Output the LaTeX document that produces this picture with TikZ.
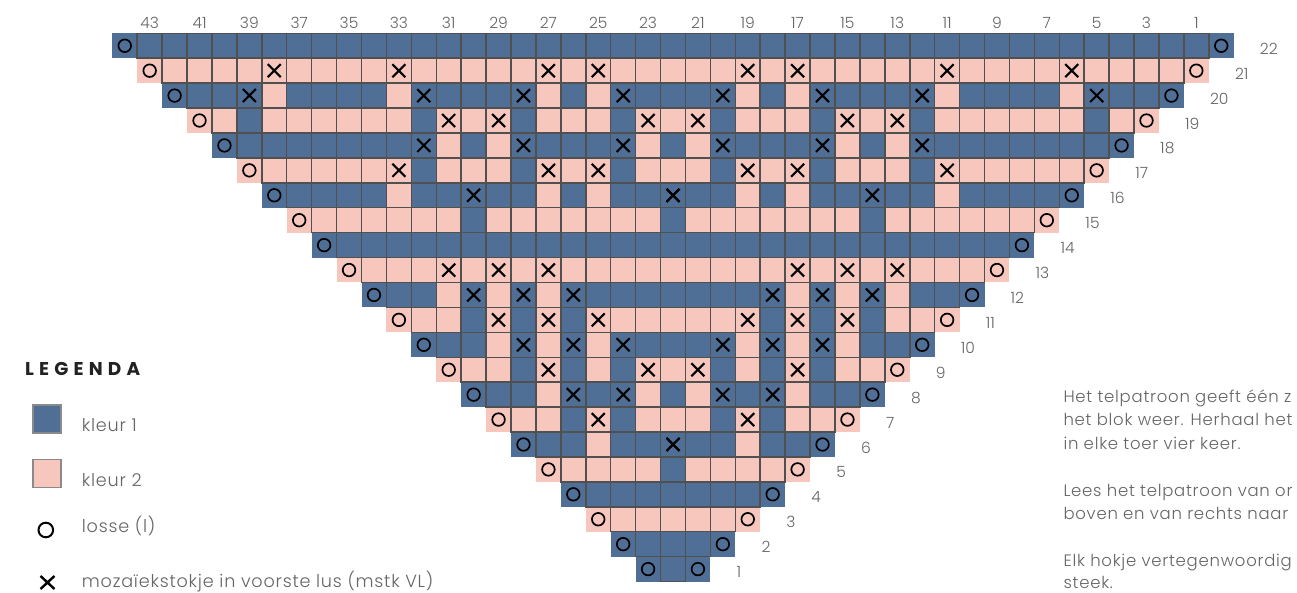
\documentclass[tikz,border=0pt]{standalone}
\usepackage{fontspec}
\setmainfont{Poppins Light}
\newfontfamily\bodyfont{Poppins Light}[LetterSpace=4.5]
\newfontfamily\legfont{Poppins}[LetterSpace=28]
\definecolor{blu}{HTML}{506F96}
\definecolor{pnk}{HTML}{F7C6BD}
\definecolor{gridc}{HTML}{505050}
\definecolor{txtc}{HTML}{666666}
\definecolor{ttlc}{HTML}{222222}
\definecolor{legbd}{HTML}{8A8A8A}

\def\S{24.92}
\def\XO{112.3}
\def\YO{33.3}
\def\chmode{0}

\tikzset{
  gridline/.style={draw=gridc, line width=1.5pt},
  xmark/.style={draw=black, line width=2.1pt},
  omark/.style={draw=black, line width=1.7pt},
  numlabel/.style={inner sep=0pt, text=txtc, font=\fontsize{15.5}{18}\selectfont},
  bodytext/.style={inner sep=0pt, anchor=base west, text=txtc, font=\bodyfont\fontsize{16.5}{20}\selectfont},
  legtext/.style={inner sep=0pt, anchor=base west, text=txtc, font=\bodyfont\fontsize{17.6}{20}\selectfont},
  legsq/.style={draw=legbd, line width=1.2pt, minimum size=28pt, inner sep=0pt},
}

\newcommand\cellat[3]{%
  \pgfmathsetmacro\ax{\XO+(#1)*\S}%
  \pgfmathsetmacro\ay{\YO+(22-(#2))*\S}%
  \pgfmathsetmacro\mx{\ax+0.5*\S}%
  \pgfmathsetmacro\my{\ay+0.5*\S}%
  \edef\tp{#3}%
  \def\fc{blu}\def\hasb{1}\def\mk{0}%
  \if\tp P\def\fc{pnk}\fi
  \if\tp Y\def\fc{pnk}\def\mk{1}\fi
  \if\tp X\def\mk{1}\fi
  \if\tp q\def\fc{pnk}\def\hasb{0}\def\mk{2}\fi
  \if\tp o\def\hasb{0}\def\mk{2}\fi
  \ifnum\chmode=0 \fill[fill=\fc] (\ax,\ay) rectangle ++(\S,\S);\fi
  \ifnum\chmode=1 \ifnum\hasb=1 \draw[gridline] (\ax,\ay) rectangle ++(\S,\S);\fi\fi
  \ifnum\chmode=2
    \ifnum\mk=1 \draw[xmark] (\mx-6.5,\my-6.5) -- (\mx+6.5,\my+6.5) (\mx-6.5,\my+6.5) -- (\mx+6.5,\my-6.5);\fi
    \ifnum\mk=2 \draw[omark] (\mx,\my) circle (6.3pt);\fi
  \fi
}

\newcommand\chartrow[3]{%
  \pgfmathtruncatemacro\cL{22-#1}%
  \pgfmathtruncatemacro\cR{22+#1}%
  \cellat{\cL}{#1}{#2}%
  \cellat{\cR}{#1}{#2}%
  \foreach \ty [count=\i from 0] in {#3}{%
    \pgfmathtruncatemacro\cola{23-#1+\i}%
    \pgfmathtruncatemacro\colb{44-\cola}%
    \cellat{\cola}{#1}{\ty}%
    \cellat{\colb}{#1}{\ty}%
  }%
}

\newcommand\allrows{%
\chartrow{22}{o}{B,B,B,B,B,B,B,B,B,B,B,B,B,B,B,B,B,B,B,B,B,B}%
\chartrow{21}{q}{P,P,P,P,Y,P,P,P,P,Y,P,P,P,P,P,Y,P,Y,P,P,P}%
\chartrow{20}{o}{B,B,X,P,B,B,B,B,P,X,B,B,B,X,P,B,P,X,B,B}%
\chartrow{19}{q}{P,B,P,P,P,P,P,P,B,Y,P,Y,B,P,P,P,B,Y,P}%
\chartrow{18}{o}{B,B,B,B,B,B,B,X,P,B,P,X,B,B,B,X,P,B}%
\chartrow{17}{q}{P,P,P,P,P,Y,B,P,P,P,B,Y,P,Y,B,P,P}%
\chartrow{16}{o}{B,B,B,B,P,B,B,X,B,B,P,B,P,B,B,X}%
\chartrow{15}{q}{P,P,P,P,P,P,B,P,P,P,P,P,P,P,B}%
\chartrow{14}{o}{B,B,B,B,B,B,B,B,B,B,B,B,B,B}%
\chartrow{13}{q}{P,P,P,Y,P,Y,P,Y,P,P,P,P,P}%
\chartrow{12}{o}{B,B,P,X,P,X,P,X,B,B,B,B}%
\chartrow{11}{q}{P,P,B,Y,B,Y,B,Y,P,P,P}%
\chartrow{10}{o}{B,B,P,X,P,X,P,X,B,B}%
\chartrow{9}{q}{P,P,B,Y,B,P,B,Y,P}%
\chartrow{8}{o}{B,B,P,X,B,X,P,B}%
\chartrow{7}{q}{P,P,B,Y,B,P,P}%
\chartrow{6}{o}{B,B,P,B,B,X}%
\chartrow{5}{q}{P,P,P,P,B}%
\chartrow{4}{o}{B,B,B,B}%
\chartrow{3}{q}{P,P,P}%
\chartrow{2}{o}{B,B}%
\chartrow{1}{o}{B}%
}

\begin{document}
\begin{tikzpicture}[x=1pt,y=-1pt]
\useasboundingbox (0,0) rectangle (1297,593);
\fill[white] (0,0) rectangle (1297,593);

% chart: fills, borders, symbols
\foreach \chmode in {0,1,2}{\allrows}

% column numbers
\foreach \n in {1,3,...,43}{
  \node[numlabel] (col\n) at ({\XO+(44.5-\n)*\S},22.8) {\n};
}
% row numbers
\foreach \r in {1,...,22}{
  \node[numlabel,anchor=west] (row\r) at ({\XO+(23+\r)*\S+26},{\YO+(22.5-\r)*\S+3}) {\r};
}

% legend
\node[anchor=west,inner sep=0pt,text=ttlc,font=\legfont\bfseries\fontsize{18.5}{20}\selectfont] (legtitle) at (25,368.5) {LEGENDA};
\node[legsq,fill=blu] (legblue) at (47,419) {};
\node[legtext] (legbluetxt) at (81.7,431.5) {kleur 1};
\node[legsq,fill=pnk] (legpink) at (47,473.5) {};
\node[legtext] (legpinktxt) at (81.7,486) {kleur 2};
\coordinate (legO) at (45.8,530);
\draw[draw=black,line width=2pt] (legO) circle (7.3pt);
\node[legtext] (legOtxt) at (81.7,532) {losse (l)};
\coordinate (legX) at (47.5,582.5);
\draw[draw=black,line width=2.4pt] ([shift={(-7,-6.5)}]legX) -- ([shift={(7,6.5)}]legX) ([shift={(-7,6.5)}]legX) -- ([shift={(7,-6.5)}]legX);
\node[legtext] (legXtxt) at (81.7,587) {mozaïekstokje in voorste lus (mstk VL)};

% explanatory text (cut at the right border)
\node[bodytext] (t1) at (1063.3,402) {Het telpatroon geeft één z};
\node[bodytext] (t2) at (1063.3,425.5) {het blok weer. Herhaal het};
\node[bodytext] (t3) at (1063.3,449) {in elke toer vier keer.};
\node[bodytext] (t4) at (1063.3,496) {Lees het telpatroon van or};
\node[bodytext] (t5) at (1063.3,519.5) {boven en van rechts naar};
\node[bodytext] (t6) at (1063.3,566.5) {Elk hokje vertegenwoordig};
\node[bodytext] (t7) at (1063.3,588.5) {steek.};
\end{tikzpicture}
\end{document}
